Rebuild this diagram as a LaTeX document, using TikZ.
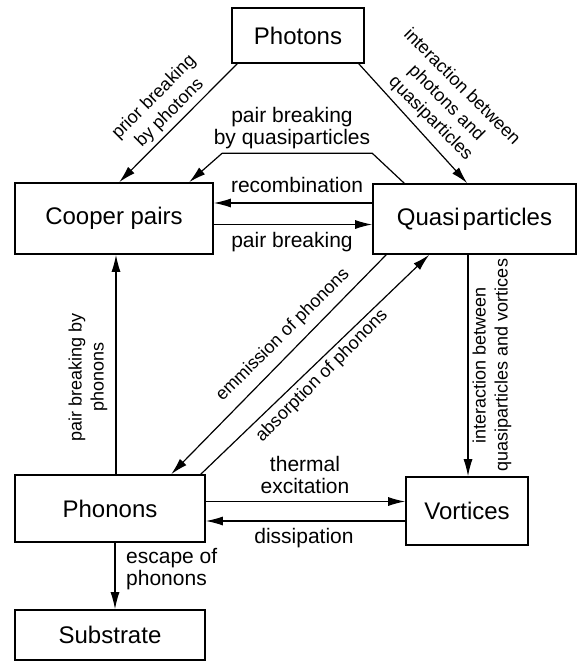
\documentclass[tikz,border=0pt]{standalone}
\usepackage{fontspec}
\setmainfont{Liberation Sans}
\usetikzlibrary{arrows.meta}

\begin{document}
\begin{tikzpicture}[x=1pt,y=-1pt,
    box/.style={draw, line width=1.6pt, inner sep=0pt, font=\fontsize{24}{28}\selectfont},
    arr/.style={line width=1.2pt, -{Latex[length=17pt,width=9pt]}},
    lbl/.style={font=\fontsize{21}{22}\selectfont, align=center, inner sep=0pt},
    rlbl/.style={font=\fontsize{18}{22}\selectfont, align=center, inner sep=0pt}]

    \useasboundingbox (0,0) rectangle (580,663);

    % Boxes
    \node[box, minimum width=132pt, minimum height=55pt] (photons) at (298,35.5) {Photons};
    \node[box, minimum width=198pt, minimum height=71pt] (cooper) at (114,218.5) {Cooper pairs};
    \node[box, minimum width=203pt, minimum height=70pt] (quasi) at (474.5,219) {Quasi\hspace{3pt}particles};
    \node[box, minimum width=190pt, minimum height=67pt] (phonons) at (110,508.5) {Phonons};
    \node[box, minimum width=122pt, minimum height=68pt] (vortices) at (467,511) {Vortices};
    \node[box, minimum width=190pt, minimum height=50pt] (substrate) at (110,635) {Substrate};

    % From the photons
    \draw[arr] ([xshift=6pt]photons.south west) -- ([xshift=105pt]cooper.north west);
    \draw[arr] ([xshift=-6pt]photons.south east) -- ([xshift=95pt]quasi.north west);
    \node[rlbl, rotate=45] (lprior) at (162,105) {prior breaking\\by photons};
    \node[rlbl, rotate=-45] (lphq) at (446,103) {interaction between\\photons and\\quasiparticles};

    % Cooper pairs <-> quasiparticles
    \draw[arr] ([xshift=32pt]quasi.north west) -- ++(-32,-30) -- ++(-150,0) -- ([xshift=175pt]cooper.north west);
    \node[lbl] (lpbq) at (292,128) {pair breaking\\by quasiparticles};

    \coordinate (rc) at ([yshift=16pt]quasi.west);
    \draw[arr] (rc) -- (rc -| cooper.east);
    \node[lbl] (lrec) at (297,185) {recombination};

    \coordinate (pb) at ([yshift=-6pt]cooper.east);
    \draw[arr] (pb) -- (pb -| quasi.west);
    \node[lbl] (lpb) at (292,242) {pair breaking};

    % Phonons
    \coordinate (pp) at ([xshift=6pt]phonons.north);
    \draw[arr] (pp) -- (pp |- cooper.south);
    \node[rlbl, rotate=90] (lpbp) at (88,377) {pair breaking by\\phonons};

    \draw[arr] ([xshift=14pt]quasi.south west) -- ([xshift=157pt]phonons.north west);
    \node[rlbl, rotate=45] (lem) at (283,335) {emmission of phonons};
    \draw[arr] ([xshift=-5pt]phonons.north east) -- ([xshift=57pt]quasi.south west);
    \node[rlbl, rotate=45] (lab) at (322,376) {absorption of phonons};

    % Vortices
    \coordinate (qv) at ([xshift=1pt]vortices.north);
    \draw[arr] (qv |- quasi.south) -- (qv);
    \node[rlbl, rotate=90] (lqv) at (492,365) {interaction between\\quasiparticles and vortices};

    \coordinate (te) at ([yshift=7pt]phonons.east);
    \draw[arr] (te) -- (te -| vortices.west);
    \node[lbl] (lth) at (305,475) {thermal\\excitation};

    \coordinate (ds) at ([yshift=-10pt]vortices.west);
    \draw[arr] (ds) -- (ds -| phonons.east);
    \node[lbl] (ldis) at (304,538) {dissipation};

    % Substrate
    \coordinate (es) at ([xshift=5pt]phonons.south);
    \draw[arr] (es) -- (es |- substrate.north);
    \node[lbl, anchor=west, align=left] (lesc) at (126,569) {escape of\\phonons};

\end{tikzpicture}
\end{document}
